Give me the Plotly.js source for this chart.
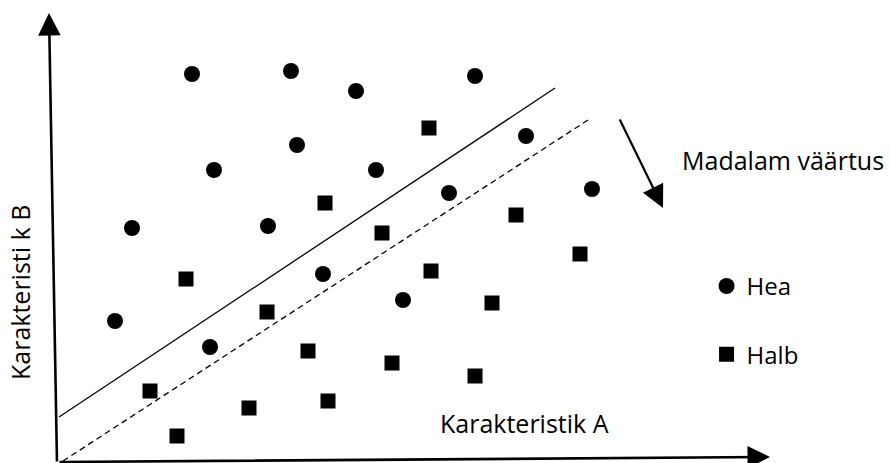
<!DOCTYPE html>
<html><head><meta charset="utf-8">
<script src="https://cdn.plot.ly/plotly-3.0.1.min.js"></script>
<style>html,body{margin:0;padding:0;background:#fff}#chart{width:891px;height:463px}</style>
</head><body><div id="chart"></div>
<script>
// Data (schematic units: x = characteristic A, y = characteristic B)
const seriesNames = ['Hea', 'Halb'];
const heaX = [192, 291, 356, 475, 297, 214, 376, 526, 449, 592, 132, 268, 323, 403, 115, 210];
const heaY = [389, 392, 372, 387, 318, 293, 293, 327, 270, 274, 235, 237, 189, 163, 142, 116];
const halbX = [429, 325, 516, 382, 186, 431, 580, 267, 492, 308, 392, 475, 150, 249, 328, 177];
const halbY = [335, 260, 248, 230, 184, 192, 209, 151, 160, 112, 100, 87, 72, 55, 62, 27];
const solidLineX = [59, 555];
const solidLineY = [46, 375];
const dashedLineX = [63, 588];
const dashedLineY = [2, 343];
const xAxisLabel = 'Karakteristik A';
const yAxisLabel = 'Karakteristi k B';
const arrowLabel = 'Madalam väärtus';

const FONT = 'Open Sans, Liberation Sans, sans-serif';

const traces = [
  {x: heaX, y: heaY, name: seriesNames[0], type: 'scatter', mode: 'markers', cliponaxis: false,
   legendgroup: 'g1', marker: {symbol: 'circle', size: 16, color: '#000'}},
  {x: halbX, y: halbY, name: seriesNames[1], type: 'scatter', mode: 'markers', cliponaxis: false,
   legendgroup: 'g2', marker: {symbol: 'square', size: 15, color: '#000'}},
  {x: solidLineX, y: solidLineY, type: 'scatter', mode: 'lines', showlegend: false, cliponaxis: false,
   line: {color: '#000', width: 1.3}},
  {x: dashedLineX, y: dashedLineY, type: 'scatter', mode: 'lines', showlegend: false, cliponaxis: false,
   line: {color: '#000', width: 1.3, dash: '6px,4px'}}
];

function arrow(tipX, tipY, tailX, tailY, w) {
  return {x: tipX, y: tipY, ax: tailX, ay: tailY, xref: 'x', yref: 'y', axref: 'x', ayref: 'y',
    text: '', showarrow: true, arrowhead: 2, arrowsize: 4.5 / w, arrowwidth: w, arrowcolor: '#000',
    standoff: 0, startstandoff: 0};
}

const layout = {
  width: 891, height: 463,
  margin: {l: 0, r: 0, t: 0, b: 0, pad: 0},
  paper_bgcolor: '#fff', plot_bgcolor: '#fff',
  xaxis: {range: [0, 891], visible: false, fixedrange: true},
  yaxis: {range: [0, 463], visible: false, fixedrange: true},
  showlegend: true,
  legend: {x: 0.793, y: 0.43, xanchor: 'left', yanchor: 'top', bgcolor: 'rgba(0,0,0,0)',
    font: {family: FONT, size: 24, color: '#000'}, tracegroupgap: 34, itemsizing: 'trace'},
  annotations: [
    arrow(49, 450, 57, 0, 2.6),
    arrow(770, 6, 58, 1, 2.6),
    arrow(663, 255, 619, 345, 2.2),
    {x: 783, y: 303, xref: 'x', yref: 'y', text: arrowLabel, showarrow: false,
     font: {family: FONT, size: 25, color: '#000'}},
    {x: 524, y: 40, xref: 'x', yref: 'y', text: xAxisLabel, showarrow: false,
     font: {family: FONT, size: 25, color: '#000'}},
    {x: 20, y: 170, xref: 'x', yref: 'y', text: yAxisLabel, showarrow: false, textangle: -90,
     font: {family: FONT, size: 25, color: '#000'}}
  ]
};

Plotly.newPlot('chart', traces, layout, {displayModeBar: false, staticPlot: true});
</script>
</body></html>
